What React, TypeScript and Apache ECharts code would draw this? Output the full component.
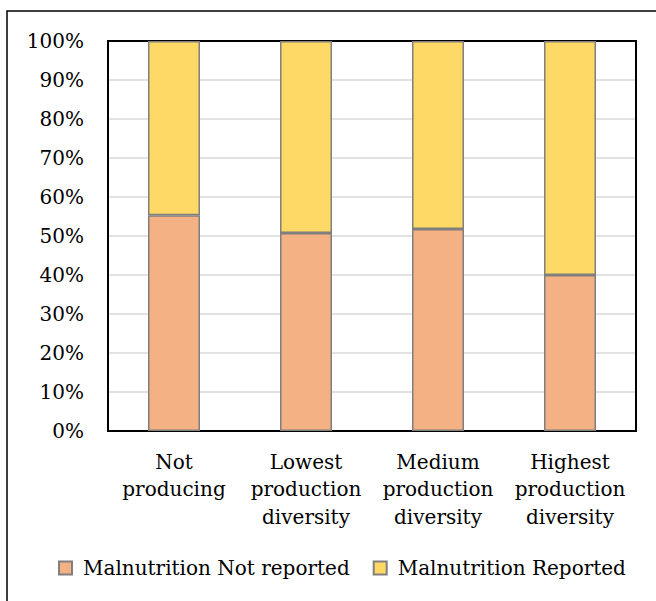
import React, { useEffect, useRef } from "react";
import * as echarts from "echarts";

const categories = [
  "Not producing",
  "Lowest production diversity",
  "Medium production diversity",
  "Highest production diversity",
];
const notReported = [55.3, 50.8, 51.8, 40.0];
const reported = [44.7, 49.2, 48.2, 60.0];
const seriesNames = ["Malnutrition Not reported", "Malnutrition Reported"];
const yTicks = { min: 0, max: 100, interval: 10 };

const FONT = "DejaVu Serif";
const GRID = { left: 108, top: 41, width: 528, height: 390 };

export default function App() {
  const ref = useRef<HTMLDivElement>(null);
  useEffect(() => {
    document.body.style.margin = "0";
    const chart = echarts.init(ref.current!, null, { renderer: "svg" });
    chart.setOption({
      animation: false,
      backgroundColor: "#ffffff",
      textStyle: { fontFamily: FONT, color: "#000" },
      graphic: [
        {
          type: "rect",
          shape: { x: 7, y: 11, width: 800, height: 800 },
          style: { fill: "none", stroke: "#000", lineWidth: 1.5 },
          silent: true,
          z: 100,
        },
        {
          type: "rect",
          shape: { x: GRID.left, y: GRID.top, width: GRID.width, height: GRID.height },
          style: { fill: "none", stroke: "#000", lineWidth: 2 },
          silent: true,
          z: 1,
        },
      ],
      grid: { ...GRID, show: false },
      legend: {
        left: 58,
        top: 558,
        padding: 0,
        itemWidth: 13,
        itemHeight: 13,
        itemGap: 23,
        icon: "rect",
        data: seriesNames,
        textStyle: {
          fontFamily: FONT,
          fontSize: 20,
          color: "#000",
          padding: [0, 0, 0, 6],
        },
      },
      xAxis: {
        type: "category",
        data: categories,
        axisLine: { show: false },
        axisTick: { show: false },
        axisLabel: {
          fontFamily: FONT,
          fontSize: 20,
          color: "#000",
          lineHeight: 27.5,
          margin: 17,
          interval: 0,
          formatter: (v: string) => v.split(" ").join("\n"),
        },
      },
      yAxis: {
        type: "value",
        min: yTicks.min,
        max: yTicks.max,
        interval: yTicks.interval,
        axisLine: { show: false },
        axisTick: { show: false },
        splitLine: { lineStyle: { color: "#d9d9d9", width: 1.5 } },
        axisLabel: {
          fontFamily: FONT,
          fontSize: 20,
          color: "#000",
          margin: 24,
          formatter: "{value}%",
        },
      },
      series: [
        {
          name: seriesNames[0],
          type: "bar",
          stack: "total",
          barWidth: 52,
          data: notReported,
          itemStyle: { color: "#F4B183", borderColor: "#7f7f7f", borderWidth: 1.5 },
        },
        {
          name: seriesNames[1],
          type: "bar",
          stack: "total",
          barWidth: 52,
          data: reported,
          itemStyle: { color: "#FFD966", borderColor: "#7f7f7f", borderWidth: 1.5 },
        },
      ],
    });
    return () => chart.dispose();
  }, []);
  return <div ref={ref} style={{ width: 656, height: 601 }} />;
}
